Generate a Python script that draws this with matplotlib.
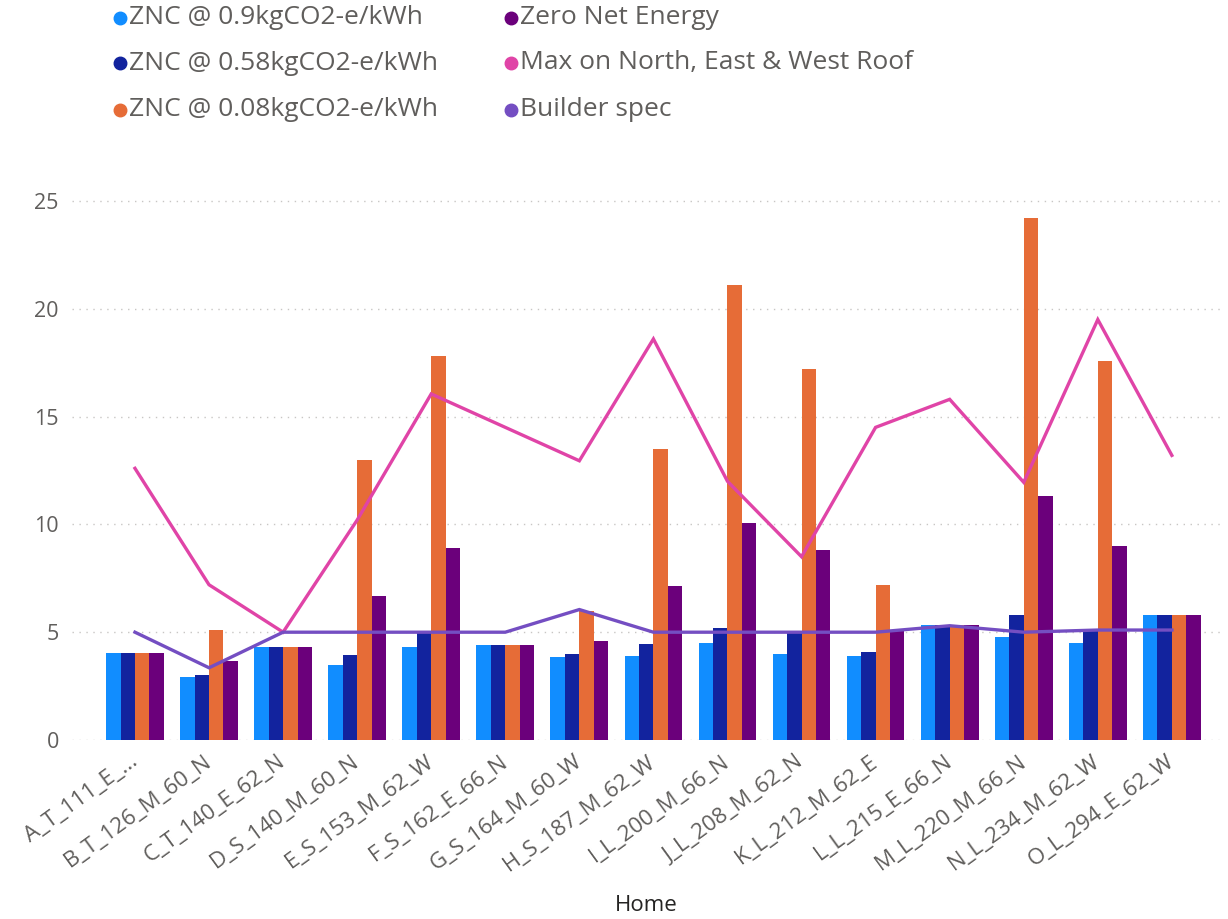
import matplotlib
matplotlib.use("Agg")
import matplotlib.pyplot as plt
import matplotlib.transforms as mtransforms
from matplotlib.lines import Line2D
import numpy as np

plt.rcParams['font.family'] = ['Open Sans', 'DejaVu Sans']

homes = ["A_T_111_E_...", "B_T_126_M_60_N", "C_T_140_E_62_N", "D_S_140_M_60_N",
         "E_S_153_M_62_W", "F_S_162_E_66_N", "G_S_164_M_60_W", "H_S_187_M_62_W",
         "I_L_200_M_66_N", "J_L_208_M_62_N", "K_L_212_M_62_E", "L_L_215_E_66_N",
         "M_L_220_M_66_N", "N_L_234_M_62_W", "O_L_294_E_62_W"]

znc_090 = [4.05, 2.9, 4.3, 3.5, 4.3, 4.4, 3.85, 3.9, 4.5, 4.0, 3.9, 5.35, 4.8, 4.5, 5.8]
znc_058 = [4.05, 3.0, 4.3, 3.95, 5.0, 4.4, 4.0, 4.45, 5.2, 5.0, 4.1, 5.35, 5.8, 5.15, 5.8]
znc_008 = [4.05, 5.1, 4.3, 13.0, 17.8, 4.4, 6.0, 13.5, 21.1, 17.2, 7.2, 5.35, 24.2, 17.6, 5.8]
zero_net = [4.05, 3.65, 4.3, 6.7, 8.9, 4.4, 4.6, 7.15, 10.05, 8.8, 5.1, 5.35, 11.3, 9.0, 5.8]
max_roof = [12.6, 7.2, 5.0, 10.2, 16.05, 14.5, 12.95, 18.6, 12.0, 8.5, 14.5, 15.8, 11.95, 19.5, 13.2]
builder = [5.0, 3.35, 5.0, 5.0, 5.0, 5.0, 6.05, 5.0, 5.0, 5.0, 5.0, 5.3, 5.0, 5.1, 5.1]

bar_series = [
    ("ZNC @ 0.9kgCO2-e/kWh", znc_090, "#118DFF"),
    ("ZNC @ 0.58kgCO2-e/kWh", znc_058, "#12239E"),
    ("ZNC @ 0.08kgCO2-e/kWh", znc_008, "#E66C37"),
    ("Zero Net Energy", zero_net, "#6B007B"),
]
line_series = [
    ("Max on North, East & West Roof", max_roof, "#E044A7"),
    ("Builder spec", builder, "#744EC2"),
]

text_grey = "#605E5C"

fig = plt.figure(figsize=(12.28, 9.19), dpi=100)
ax = fig.add_axes([72 / 1228, 1 - 740 / 919, (1220 - 72) / 1228, (740 - 179.4) / 919])

x = np.arange(len(homes))
bw = 0.195
for i, (name, vals, col) in enumerate(bar_series):
    ax.bar(x + (i - 1.5) * bw, vals, width=bw, color=col, zorder=2, linewidth=0)
for name, vals, col in line_series:
    ax.plot(x, vals, color=col, lw=2.4, zorder=3, solid_joinstyle='miter')

ax.set_xlim(-0.85, 14.65)
ax.set_ylim(0, 26)
ax.set_yticks([0, 5, 10, 15, 20, 25])
ax.yaxis.grid(True, linestyle=(0, (1, 4)), color="#C8C6C4", linewidth=1.0, zorder=0)
ax.set_axisbelow(True)
for s in ax.spines.values():
    s.set_visible(False)
ax.tick_params(axis='both', length=0, colors=text_grey)
ax.tick_params(axis='y', pad=9.5, labelsize=15.5)
ax.set_xticks(x)
ax.set_xticklabels(homes, rotation=36, ha='right', rotation_mode='anchor')
ax.tick_params(axis='x', pad=8, labelsize=16)
# nudge the rotated category labels slightly left of their ticks
shift = mtransforms.ScaledTranslation(-6 / 100, 0, fig.dpi_scale_trans)
for lbl in ax.get_xticklabels():
    lbl.set_transform(lbl.get_transform() + shift)
ax.set_xlabel("Home", fontsize=16, color="#252423", labelpad=14)

# legend in two columns above the plot
rows_y = [1 - 18 / 919, 1 - 63 / 919, 1 - 110 / 919]
entries = [(bar_series[0], 0, 0), (bar_series[1], 0, 1), (bar_series[2], 0, 2),
           (bar_series[3], 1, 0), (line_series[0], 1, 1), (line_series[1], 1, 2)]
col_x = [120 / 1228, 511 / 1228]
for (name, _, col), c, r in entries:
    fig.add_artist(Line2D([col_x[c]], [rows_y[r]], marker='o', markersize=9,
                          color=col, linestyle='none', transform=fig.transFigure))
    fig.text(col_x[c] + 9 / 1228, rows_y[r], name, fontsize=19, color=text_grey,
             va='center', ha='left')

fig.savefig("out.png", dpi=100, facecolor="white")
